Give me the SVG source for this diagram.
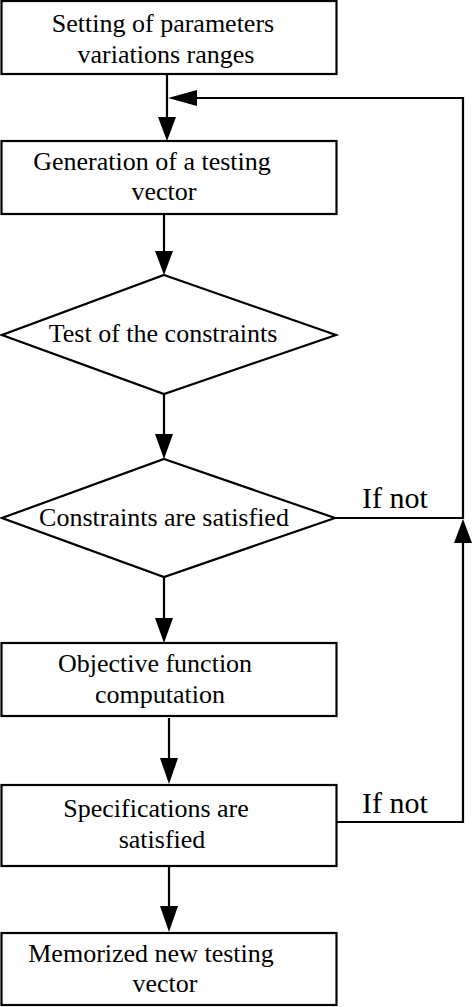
<svg xmlns="http://www.w3.org/2000/svg" width="474" height="1007" viewBox="0 0 474 1007">
<style>
.n{fill:#fff;stroke:#000;stroke-width:2.2}
.t{font-size:26px;fill:#000;text-anchor:middle}
.l{font-size:30px;fill:#000}
.c{fill:none;stroke:#000;stroke-width:2.2}
.h{fill:#000;stroke:none}
</style>
<rect width="474" height="1007" fill="#fff"/>
<g id="connectors">
<line class="c" x1="167" y1="74" x2="167" y2="120"/>
<polygon class="h" points="158,117 176,117 167,141"/>
<polyline class="c" points="335,518 463,518 463,98 190,98"/>
<polygon class="h" points="168,98 197,90 197,106"/>
<polyline class="c" points="337,822 463,822 463,540"/>
<polygon class="h" points="463,519 454,543 472,543"/>
<line class="c" x1="164" y1="214" x2="164" y2="255"/>
<polygon class="h" points="155,251 173,251 164,275"/>
<line class="c" x1="164" y1="394" x2="164" y2="438"/>
<polygon class="h" points="155,434 173,434 164,459"/>
<line class="c" x1="164" y1="577" x2="164" y2="622"/>
<polygon class="h" points="155,618 173,618 164,643"/>
<line class="c" x1="169" y1="718" x2="169" y2="762"/>
<polygon class="h" points="160,758 178,758 169,784"/>
<line class="c" x1="169" y1="866" x2="169" y2="910"/>
<polygon class="h" points="160,906 178,906 169,932"/>
<text class="l" font-family="Liberation Serif, Times New Roman, serif" x="362" y="508">If not</text>
<text class="l" font-family="Liberation Serif, Times New Roman, serif" x="362" y="813">If not</text>
</g>
<g id="n1" font-family="Liberation Serif, Times New Roman, serif">
<rect class="n" x="1.5" y="1" width="335" height="73"/>
<text class="t" x="163" y="32">Setting of parameters</text>
<text class="t" x="166" y="63">variations ranges</text>
</g>
<g id="n2" font-family="Liberation Serif, Times New Roman, serif">
<rect class="n" x="1.5" y="141" width="335" height="73"/>
<text class="t" x="152" y="170">Generation of a testing</text>
<text class="t" x="164" y="200">vector</text>
</g>
<g id="n3" font-family="Liberation Serif, Times New Roman, serif">
<polygon class="n" points="164,275 336,335 164,394 2,335"/>
<text class="t" x="163" y="342">Test of the constraints</text>
</g>
<g id="n4" font-family="Liberation Serif, Times New Roman, serif">
<polygon class="n" points="164,459 335,518 164,577 2,518"/>
<text class="t" x="164" y="526">Constraints are satisfied</text>
</g>
<g id="n5" font-family="Liberation Serif, Times New Roman, serif">
<rect class="n" x="1.5" y="643" width="335" height="73"/>
<text class="t" x="155" y="672">Objective function</text>
<text class="t" x="160" y="703">computation</text>
</g>
<g id="n6" font-family="Liberation Serif, Times New Roman, serif">
<rect class="n" x="1.5" y="785" width="335" height="81"/>
<text class="t" x="156" y="817">Specifications are</text>
<text class="t" x="162" y="848">satisfied</text>
</g>
<g id="n7" font-family="Liberation Serif, Times New Roman, serif">
<rect class="n" x="1.5" y="933" width="335" height="72"/>
<text class="t" x="151" y="962">Memorized new testing</text>
<text class="t" x="165" y="992">vector</text>
</g>
</svg>
